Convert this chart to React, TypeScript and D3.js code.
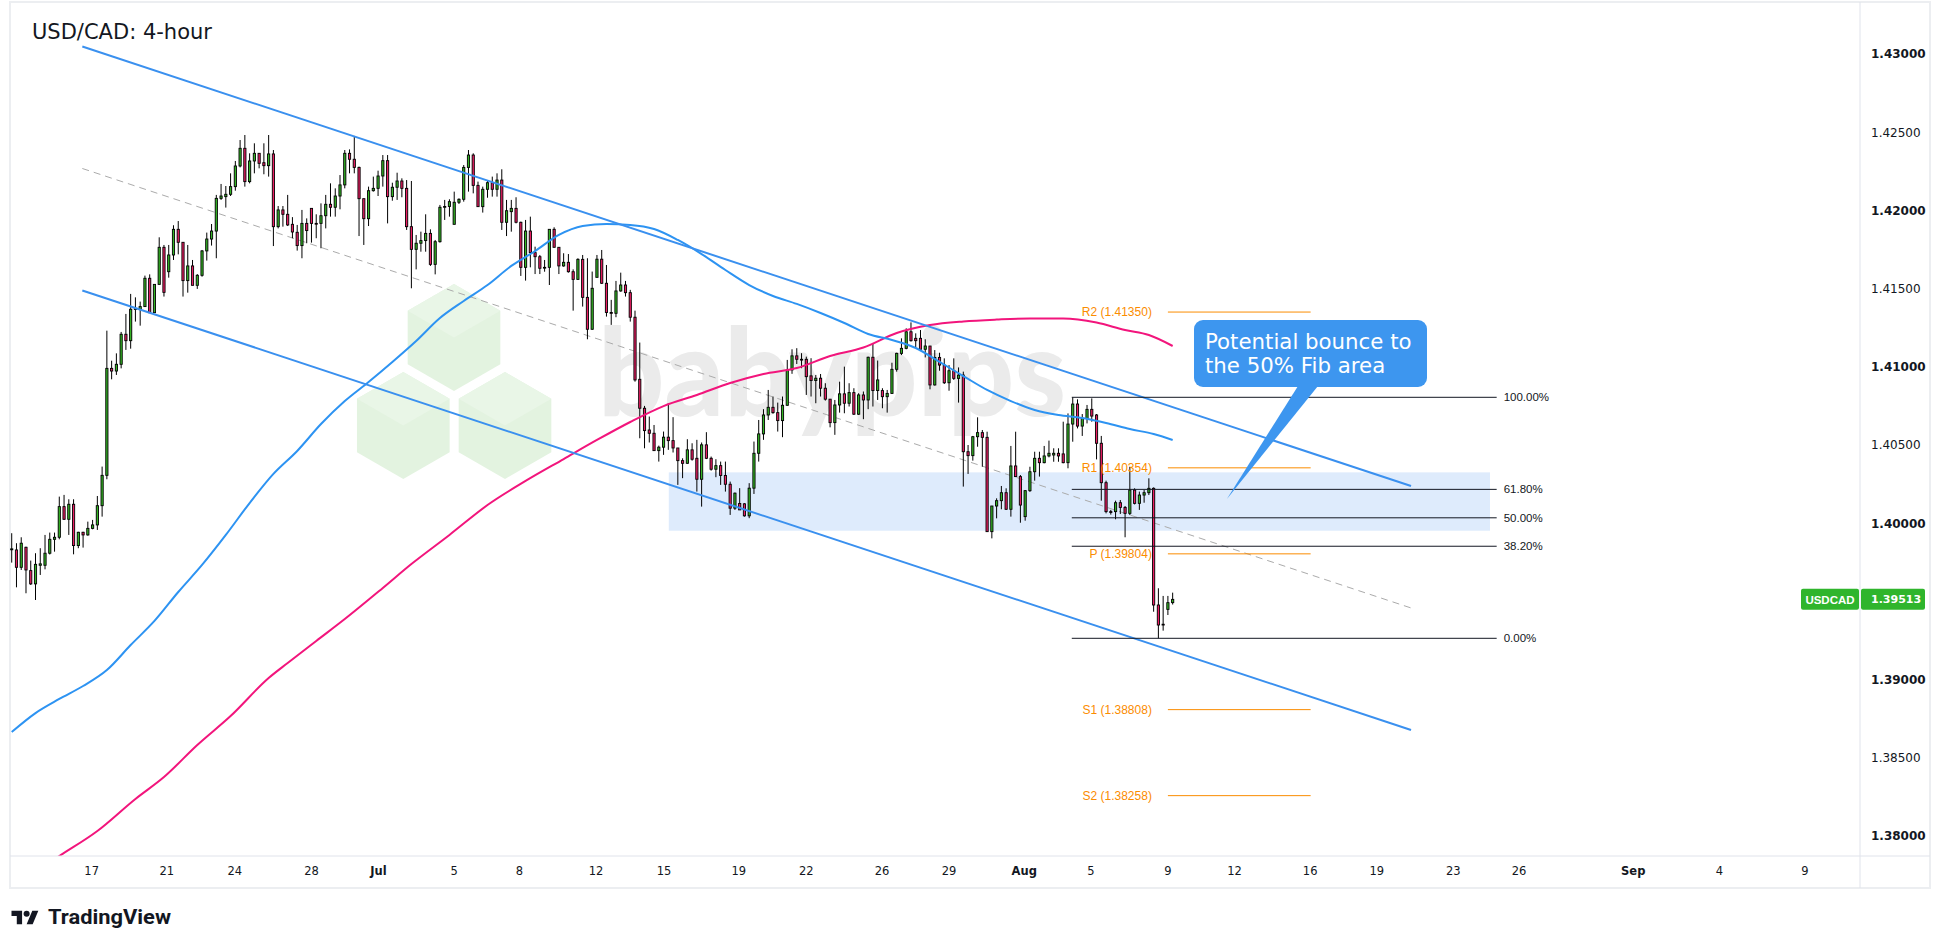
import React from 'react';
import * as d3 from 'd3';

// ---------- DATA ----------
// 4-hour candles [open, high, low, close], bar index = position in the array
const OHLC: [number, number, number, number][] = [
  [1.39830, 1.39936, 1.39748, 1.39836], [1.39829, 1.39872, 1.39590, 1.39718], [1.39718, 1.39910, 1.39701, 1.39872],
  [1.39846, 1.39850, 1.39552, 1.39701], [1.39697, 1.39761, 1.39605, 1.39612], [1.39612, 1.39808, 1.39509, 1.39737],
  [1.39731, 1.39840, 1.39669, 1.39740], [1.39731, 1.39925, 1.39705, 1.39808], [1.39808, 1.39940, 1.39800, 1.39897],
  [1.39897, 1.39940, 1.39818, 1.39910], [1.39910, 1.40170, 1.39897, 1.40106], [1.40106, 1.40181, 1.40021, 1.40025],
  [1.40025, 1.40153, 1.39925, 1.40121], [1.40121, 1.40153, 1.39801, 1.39857], [1.39857, 1.39945, 1.39840, 1.39942],
  [1.39942, 1.39945, 1.39844, 1.39925], [1.39925, 1.40010, 1.39920, 1.39967], [1.39967, 1.40021, 1.39961, 1.39989],
  [1.39989, 1.40174, 1.39957, 1.40112], [1.40112, 1.40362, 1.40042, 1.40306], [1.40306, 1.41231, 1.40281, 1.40990],
  [1.40990, 1.41039, 1.40920, 1.40973], [1.40973, 1.41086, 1.40948, 1.41016], [1.41016, 1.41223, 1.40990, 1.41208],
  [1.41208, 1.41338, 1.41108, 1.41167], [1.41167, 1.41466, 1.41116, 1.41368], [1.41368, 1.41444, 1.41289, 1.41372],
  [1.41368, 1.41417, 1.41263, 1.41385], [1.41385, 1.41583, 1.41385, 1.41566], [1.41566, 1.41591, 1.41346, 1.41346],
  [1.41346, 1.41527, 1.41346, 1.41527], [1.41527, 1.41828, 1.41527, 1.41764], [1.41764, 1.41779, 1.41449, 1.41476],
  [1.41608, 1.41779, 1.41570, 1.41715], [1.41715, 1.41905, 1.41683, 1.41879], [1.41879, 1.41932, 1.41719, 1.41796],
  [1.41796, 1.41796, 1.41449, 1.41551], [1.41551, 1.41779, 1.41474, 1.41645], [1.41645, 1.41683, 1.41521, 1.41521],
  [1.41521, 1.41593, 1.41498, 1.41585], [1.41585, 1.41747, 1.41576, 1.41741], [1.41741, 1.41858, 1.41679, 1.41817],
  [1.41817, 1.41913, 1.41775, 1.41868], [1.41868, 1.42099, 1.41694, 1.42077], [1.42077, 1.42169, 1.42067, 1.42092],
  [1.42088, 1.42156, 1.42018, 1.42103], [1.42103, 1.42237, 1.42092, 1.42152], [1.42152, 1.42316, 1.42126, 1.42284],
  [1.42284, 1.42450, 1.42275, 1.42397], [1.42397, 1.42482, 1.42152, 1.42184], [1.42184, 1.42365, 1.42173, 1.42316],
  [1.42316, 1.42429, 1.42237, 1.42365], [1.42365, 1.42365, 1.42269, 1.42301], [1.42305, 1.42429, 1.42231, 1.42286],
  [1.42286, 1.42482, 1.42216, 1.42361], [1.42361, 1.42386, 1.41772, 1.41896], [1.41896, 1.42028, 1.41885, 1.42003],
  [1.42003, 1.42028, 1.41896, 1.41975], [1.41975, 1.42099, 1.41900, 1.41907], [1.41911, 1.41957, 1.41822, 1.41862],
  [1.41860, 1.41907, 1.41743, 1.41775], [1.41775, 1.42003, 1.41694, 1.41917], [1.41917, 1.41949, 1.41790, 1.41871],
  [1.42013, 1.42013, 1.41794, 1.41917], [1.41917, 1.41975, 1.41822, 1.41915], [1.41917, 1.42045, 1.41758, 1.41966],
  [1.41966, 1.42099, 1.41885, 1.42039], [1.42039, 1.42173, 1.41960, 1.42020], [1.42020, 1.42141, 1.41960, 1.42092],
  [1.42092, 1.42226, 1.42007, 1.42163], [1.42163, 1.42386, 1.42141, 1.42365], [1.42365, 1.42390, 1.42237, 1.42327],
  [1.42327, 1.42476, 1.42237, 1.42275], [1.42275, 1.42280, 1.41836, 1.42075], [1.42075, 1.42075, 1.41779, 1.41947],
  [1.41947, 1.42152, 1.41900, 1.42126], [1.42126, 1.42216, 1.42120, 1.42141], [1.42141, 1.42254, 1.42092, 1.42220],
  [1.42220, 1.42354, 1.42152, 1.42318], [1.42318, 1.42354, 1.41917, 1.42088], [1.42088, 1.42177, 1.42062, 1.42148],
  [1.42148, 1.42241, 1.42067, 1.42188], [1.42188, 1.42205, 1.42084, 1.42141], [1.42141, 1.42194, 1.41875, 1.41896],
  [1.41896, 1.42188, 1.41502, 1.41751], [1.41751, 1.41843, 1.41623, 1.41790], [1.41790, 1.41864, 1.41736, 1.41807],
  [1.41807, 1.41975, 1.41736, 1.41853], [1.41853, 1.41879, 1.41645, 1.41655], [1.41655, 1.41811, 1.41591, 1.41800],
  [1.41800, 1.42035, 1.41794, 1.42020], [1.42020, 1.42067, 1.41939, 1.42025], [1.42025, 1.42071, 1.41960, 1.42056],
  [1.41911, 1.42120, 1.41911, 1.42052], [1.42052, 1.42077, 1.42041, 1.42071], [1.42071, 1.42290, 1.42056, 1.42275],
  [1.42275, 1.42386, 1.42120, 1.42354], [1.42354, 1.42365, 1.42109, 1.42160], [1.42160, 1.42184, 1.42024, 1.42024],
  [1.42024, 1.42152, 1.41986, 1.42135], [1.42135, 1.42188, 1.42081, 1.42177], [1.42177, 1.42216, 1.42088, 1.42135],
  [1.42135, 1.42237, 1.42088, 1.42194], [1.42194, 1.42263, 1.41875, 1.41924], [1.41924, 1.42067, 1.41836, 1.41998],
  [1.41992, 1.42067, 1.41864, 1.42013], [1.42013, 1.42084, 1.41917, 1.41924], [1.41924, 1.41928, 1.41581, 1.41636],
  [1.41636, 1.41939, 1.41551, 1.41868], [1.41868, 1.41960, 1.41636, 1.41730], [1.41730, 1.41768, 1.41593, 1.41704],
  [1.41704, 1.41715, 1.41593, 1.41630], [1.41634, 1.41683, 1.41608, 1.41636], [1.41636, 1.41879, 1.41523, 1.41879],
  [1.41879, 1.41892, 1.41764, 1.41764], [1.41764, 1.41764, 1.41593, 1.41645], [1.41645, 1.41726, 1.41640, 1.41668],
  [1.41668, 1.41721, 1.41602, 1.41608], [1.41608, 1.41623, 1.41359, 1.41559], [1.41559, 1.41694, 1.41555, 1.41687],
  [1.41687, 1.41715, 1.41385, 1.41444], [1.41444, 1.41694, 1.41176, 1.41240], [1.41240, 1.41609, 1.41236, 1.41502],
  [1.41572, 1.41715, 1.41572, 1.41688], [1.41688, 1.41747, 1.41530, 1.41534], [1.41534, 1.41651, 1.41321, 1.41347],
  [1.41347, 1.41428, 1.41268, 1.41345], [1.41342, 1.41549, 1.41317, 1.41485], [1.41485, 1.41602, 1.41480, 1.41523],
  [1.41523, 1.41549, 1.41449, 1.41474], [1.41474, 1.41492, 1.41289, 1.41317], [1.41317, 1.41359, 1.40905, 1.40916],
  [1.40920, 1.41155, 1.40543, 1.40735], [1.40735, 1.40750, 1.40479, 1.40592], [1.40596, 1.40682, 1.40516, 1.40575],
  [1.40575, 1.40628, 1.40464, 1.40464], [1.40464, 1.40496, 1.40394, 1.40486], [1.40486, 1.40586, 1.40437, 1.40550],
  [1.40550, 1.40767, 1.40469, 1.40528], [1.40528, 1.40678, 1.40452, 1.40481], [1.40481, 1.40481, 1.40245, 1.40400],
  [1.40400, 1.40415, 1.40288, 1.40383], [1.40383, 1.40537, 1.40380, 1.40469], [1.40469, 1.40511, 1.40400, 1.40409],
  [1.40415, 1.40533, 1.40202, 1.40281], [1.40281, 1.40516, 1.40106, 1.40501], [1.40501, 1.40582, 1.40410, 1.40415],
  [1.40415, 1.40426, 1.40336, 1.40345], [1.40345, 1.40409, 1.40294, 1.40368], [1.40368, 1.40394, 1.40245, 1.40305],
  [1.40305, 1.40394, 1.40202, 1.40249], [1.40249, 1.40266, 1.40053, 1.40096], [1.40096, 1.40196, 1.40085, 1.40192],
  [1.40126, 1.40224, 1.40085, 1.40085], [1.40124, 1.40128, 1.40042, 1.40047], [1.40047, 1.40256, 1.40032, 1.40224],
  [1.40224, 1.40522, 1.40187, 1.40447], [1.40447, 1.40660, 1.40394, 1.40571], [1.40571, 1.40729, 1.40533, 1.40692],
  [1.40692, 1.40852, 1.40660, 1.40741], [1.40741, 1.40810, 1.40700, 1.40707], [1.40707, 1.40771, 1.40586, 1.40656],
  [1.40656, 1.40810, 1.40550, 1.40754], [1.40754, 1.41044, 1.40750, 1.40980], [1.40980, 1.41112, 1.40955, 1.41070],
  [1.41070, 1.41119, 1.41018, 1.41048], [1.41048, 1.41087, 1.40991, 1.41045], [1.41048, 1.41065, 1.40820, 1.40937],
  [1.40942, 1.41055, 1.40810, 1.40912], [1.40912, 1.40948, 1.40767, 1.40927], [1.40927, 1.40954, 1.40810, 1.40863],
  [1.40863, 1.40895, 1.40784, 1.40793], [1.40793, 1.40793, 1.40613, 1.40643], [1.40643, 1.40788, 1.40565, 1.40756],
  [1.40756, 1.40905, 1.40707, 1.40827], [1.40827, 1.41001, 1.40703, 1.40767], [1.40767, 1.40895, 1.40746, 1.40835],
  [1.40835, 1.40863, 1.40692, 1.40697], [1.40697, 1.40831, 1.40692, 1.40820], [1.40820, 1.40842, 1.40665, 1.40788],
  [1.40788, 1.41065, 1.40729, 1.41061], [1.41061, 1.41151, 1.40746, 1.40848], [1.40848, 1.41040, 1.40788, 1.40916],
  [1.40848, 1.40863, 1.40735, 1.40809], [1.40809, 1.40852, 1.40707, 1.40830], [1.40830, 1.41026, 1.40826, 1.40984],
  [1.40984, 1.41090, 1.40969, 1.41086], [1.41086, 1.41182, 1.41075, 1.41118], [1.41118, 1.41246, 1.41112, 1.41224],
  [1.41224, 1.41284, 1.41161, 1.41167], [1.41182, 1.41214, 1.41124, 1.41167], [1.41182, 1.41235, 1.41103, 1.41112],
  [1.41112, 1.41176, 1.41060, 1.41133], [1.41133, 1.41133, 1.40856, 1.40884], [1.40884, 1.41107, 1.40880, 1.41060],
  [1.41060, 1.41090, 1.40975, 1.41011], [1.41011, 1.41054, 1.40890, 1.40898], [1.40898, 1.41011, 1.40847, 1.40975],
  [1.40975, 1.41054, 1.40916, 1.40926], [1.40926, 1.40996, 1.40771, 1.40947], [1.40947, 1.40969, 1.40234, 1.40457],
  [1.40457, 1.40500, 1.40315, 1.40432], [1.40432, 1.40558, 1.40400, 1.40553], [1.40553, 1.40677, 1.40489, 1.40579],
  [1.40579, 1.40596, 1.40361, 1.40549], [1.40549, 1.40585, 1.39946, 1.39946], [1.39946, 1.40110, 1.39903, 1.40110],
  [1.40110, 1.40159, 1.40031, 1.40144], [1.40144, 1.40238, 1.40089, 1.40195], [1.40195, 1.40223, 1.40085, 1.40089],
  [1.40089, 1.40494, 1.40042, 1.40366], [1.40366, 1.40585, 1.40295, 1.40298], [1.40298, 1.40308, 1.40003, 1.40116],
  [1.40042, 1.40212, 1.40016, 1.40208], [1.40208, 1.40361, 1.40200, 1.40329], [1.40329, 1.40457, 1.40272, 1.40415],
  [1.40415, 1.40457, 1.40298, 1.40387], [1.40387, 1.40494, 1.40383, 1.40430], [1.40430, 1.40528, 1.40421, 1.40447],
  [1.40436, 1.40479, 1.40393, 1.40447], [1.40447, 1.40479, 1.40393, 1.40430], [1.40443, 1.40649, 1.40383, 1.40387],
  [1.40387, 1.40702, 1.40351, 1.40634], [1.40634, 1.40805, 1.40521, 1.40762], [1.40762, 1.40792, 1.40606, 1.40621],
  [1.40621, 1.40698, 1.40558, 1.40670], [1.40670, 1.40756, 1.40638, 1.40728], [1.40728, 1.40798, 1.40649, 1.40685],
  [1.40692, 1.40698, 1.40408, 1.40511], [1.40511, 1.40558, 1.40144, 1.40259], [1.40259, 1.40272, 1.40063, 1.40074],
  [1.40074, 1.40085, 1.40055, 1.40070], [1.40074, 1.40144, 1.40025, 1.40131], [1.40131, 1.40148, 1.40059, 1.40101],
  [1.40101, 1.40110, 1.39910, 1.40063], [1.40063, 1.40361, 1.40052, 1.40212], [1.40212, 1.40223, 1.40120, 1.40127],
  [1.40127, 1.40202, 1.40085, 1.40180], [1.40180, 1.40212, 1.40131, 1.40195], [1.40195, 1.40287, 1.40180, 1.40223],
  [1.40223, 1.40229, 1.39434, 1.39477], [1.39477, 1.39584, 1.39264, 1.39349], [1.39354, 1.39535, 1.39313, 1.39350],
  [1.39449, 1.39535, 1.39413, 1.39492], [1.39492, 1.39556, 1.39480, 1.39513],
];

// Blue moving average, sampled at bar indices
const MA_BLUE_BARS = [0, 5, 10, 15, 20, 25, 30, 35, 40, 45, 50, 55, 60, 65, 70, 75, 80, 85, 90, 95, 100, 105, 110, 115, 120,
  125, 130, 135, 140, 145, 150, 155, 160, 165, 170, 175, 180, 185, 190, 195, 200, 205, 210, 215, 220, 225, 230, 235, 240, 244];
const MA_BLUE = [1.38665, 1.38786, 1.38876, 1.38959, 1.39061, 1.39221, 1.39375, 1.39560, 1.39733, 1.39925, 1.40129, 1.40315,
  1.40462, 1.40634, 1.40781, 1.40903, 1.41031, 1.41165, 1.41312, 1.41421, 1.41523, 1.41645, 1.41740, 1.41843, 1.41900,
  1.41913, 1.41907, 1.41881, 1.41811, 1.41721, 1.41619, 1.41523, 1.41453, 1.41402, 1.41344, 1.41280, 1.41210, 1.41171,
  1.41120, 1.41031, 1.40941, 1.40852, 1.40781, 1.40724, 1.40692, 1.40673, 1.40641, 1.40602, 1.40570, 1.40532];

// Pink moving average, sampled at bar indices
const MA_PINK_BARS = [0, 10, 18, 26, 32, 39, 46, 54, 58, 64, 70, 78, 84, 92, 100, 108, 116, 123, 130, 137, 144, 151, 158,
  165, 172, 179, 186, 193, 200, 207, 214, 221, 228, 234, 239, 244];
const MA_PINK = [1.37668, 1.37872, 1.38032, 1.38237, 1.38377, 1.38582, 1.38767, 1.39010, 1.39106, 1.39247, 1.39387,
  1.39586, 1.39739, 1.39925, 1.40116, 1.40270, 1.40410, 1.40532, 1.40647, 1.40749, 1.40820, 1.40896, 1.40954, 1.40992,
  1.41069, 1.41123, 1.41216, 1.41267, 1.41290, 1.41302, 1.41309, 1.41309, 1.41283, 1.41235, 1.41203, 1.41133];

const PRICE_TICKS = [1.43, 1.425, 1.42, 1.415, 1.41, 1.405, 1.40, 1.395, 1.39, 1.385, 1.38];
const TIME_TICK_LABELS = ['17', '21', '24', '28', 'Jul', '5', '8', '12', '15', '19', '22', '26', '29', 'Aug', '5', '9',
  '12', '16', '19', '23', '26', 'Sep', '4', '9'];
const TIME_TICK_BARS = [16.8, 32.6, 46.9, 63.0, 77.1, 93.0, 106.7, 122.8, 137.1, 152.8, 167.0, 182.9, 197.0, 212.8,
  226.8, 243.0, 257.0, 272.9, 286.9, 303.0, 316.8, 340.8, 358.9, 376.9];
const MONTH_LABELS = ['Jul', 'Aug', 'Sep'];

// Descending channel: [bar, price] endpoints
const CHANNEL_UPPER: [number, number][] = [[14.84, 1.43048], [294.1, 1.40238]];
const CHANNEL_MIDDLE: [number, number][] = [[14.84, 1.42268], [294.1, 1.39458]];
const CHANNEL_LOWER: [number, number][] = [[14.84, 1.41488], [294.1, 1.38678]];

// Fibonacci retracement
const FIB_HIGH = 1.40805;
const FIB_LOW = 1.39264;
const FIB_RATIOS = [1, 0.618, 0.5, 0.382, 0];
const FIB_LABELS = ['100.00%', '61.80%', '50.00%', '38.20%', '0.00%'];
const FIB_BARS = [222.8, 312.1];

// Pivot points
const PIVOT_NAMES = ['R2', 'R1', 'P', 'S1', 'S2'];
const PIVOT_VALUES = [1.41350, 1.40354, 1.39804, 1.38808, 1.38258];
const PIVOT_BARS = [243.0, 273.0];

// Support zone
const ZONE_BARS = [138.1, 310.7];
const ZONE_PRICES = [1.40325, 1.39952];

const LAST_PRICE = 1.39513;
const SYMBOL = 'USDCAD';
const TITLE = 'USD/CAD: 4-hour';
const CALLOUT_LINES = ['Potential bounce to', 'the 50% Fib area'];
const CALLOUT_TIP: [number, number] = [255.4, 1.40155];

// ---------- STYLE ----------
const UP = '#34b425';
const DOWN = '#ea1e63';
const FONT = '"DejaVu Sans", Verdana, sans-serif';
const FONT2 = '"Liberation Sans", Arial, sans-serif';

export default function App() {
  const left = 10, right = 1860, top = 3, bottom = 856;
  const x = d3.scaleLinear().domain([-0.36, 388.46]).range([left, right]);
  const y = d3.scaleLinear().domain([1.43, 1.38]).range([54, 836]);

  const line = d3.line<[number, number]>().x(d => x(d[0])).y(d => y(d[1]));
  const smooth = d3.line<[number, number]>().x(d => x(d[0])).y(d => y(d[1])).curve(d3.curveMonotoneX);

  const bluePts: [number, number][] = MA_BLUE_BARS.map((b, i) => [b, MA_BLUE[i]]);
  const pinkPts: [number, number][] = MA_PINK_BARS.map((b, i) => [b, MA_PINK[i]]);

  const bw = 2.2;

  // watermark hexagons
  const hexR = 53.5;
  const hexCenters: [number, number][] = [[454, 337.5], [403.3, 425.5], [505, 425.5]];
  const hexPath = (cx: number, cy: number) => {
    const pts = d3.range(6).map(k => {
      const a = (Math.PI / 3) * k - Math.PI / 2;
      return [cx + hexR * Math.cos(a), cy + hexR * Math.sin(a)];
    });
    return 'M' + pts.map(p => p.join(',')).join('L') + 'Z';
  };
  const hexTop = (cx: number, cy: number) => {
    const a = (k: number) => (Math.PI / 3) * k - Math.PI / 2;
    const p = (k: number) => [cx + hexR * Math.cos(a(k)), cy + hexR * Math.sin(a(k))];
    const t = p(0), r = p(1), l = p(5);
    return `M${t[0]},${t[1]}L${r[0]},${r[1]}L${cx},${cy}L${l[0]},${l[1]}Z`;
  };

  const fibY = FIB_RATIOS.map(r => y(FIB_LOW + r * (FIB_HIGH - FIB_LOW)));

  // callout geometry
  const cbX = 1194, cbY = 320, cbW = 233, cbH = 67;
  const tipX = x(CALLOUT_TIP[0]), tipY = y(CALLOUT_TIP[1]);

  const lastY = y(LAST_PRICE);

  return (
    <svg width={1940} height={948} style={{ position: 'absolute', left: 0, top: 0, display: 'block' }}>
      <defs>
        <clipPath id="plotClip">
          <rect x={left} y={top} width={right - left} height={bottom - top} />
        </clipPath>
      </defs>
      <rect x={0} y={0} width={1940} height={948} fill="#ffffff" />
      <rect x={10} y={2} width={1920} height={886} fill="#ffffff" stroke="#eceef1" strokeWidth={2} />

      <g clipPath="url(#plotClip)">
        {/* watermark */}
        <g>
          {hexCenters.map(([cx, cy], i) => (
            <g key={'hex' + i}>
              <path d={hexPath(cx, cy)} fill="#e3f3e0" />
              <path d={hexTop(cx, cy)} fill="#e9f6e7" />
            </g>
          ))}
          <text x={598} y={416} fontFamily='Lato, "DejaVu Sans", sans-serif' fontWeight={900} fontSize={122}
            fill="#ebebeb" textLength={468} lengthAdjust="spacingAndGlyphs">babypips</text>
        </g>

        {/* support zone */}
        <rect x={x(ZONE_BARS[0])} y={y(ZONE_PRICES[0])} width={x(ZONE_BARS[1]) - x(ZONE_BARS[0])}
          height={y(ZONE_PRICES[1]) - y(ZONE_PRICES[0])} fill="#deebfc" />

        {/* channel middle dashed */}
        <path d={line(CHANNEL_MIDDLE) || ''} stroke="#ababab" strokeWidth={1} strokeDasharray="7 5" fill="none" />

        {/* candles */}
        <g>
          {OHLC.map(([o, h, l, c], i) => {
            const cx = x(i);
            const up = c >= o;
            const yT = y(Math.max(o, c));
            const yB = y(Math.min(o, c));
            return (
              <g key={'c' + i}>
                <line x1={cx} x2={cx} y1={y(h)} y2={y(l)} stroke="#000" strokeWidth={1} />
                <rect x={cx - bw / 2} y={yT} width={bw} height={Math.max(0.8, yB - yT)}
                  fill={up ? UP : DOWN} stroke="#000" strokeWidth={0.9} />
              </g>
            );
          })}
        </g>

        {/* moving averages */}
        <path d={smooth(pinkPts) || ''} stroke="#f2157c" strokeWidth={2} fill="none" />
        <path d={smooth(bluePts) || ''} stroke="#2d93f2" strokeWidth={2} fill="none" />

        {/* channel */}
        <path d={line(CHANNEL_UPPER) || ''} stroke="#3a90ef" strokeWidth={2} fill="none" />
        <path d={line(CHANNEL_LOWER) || ''} stroke="#3a90ef" strokeWidth={2} fill="none" />

        {/* fibonacci */}
        {FIB_RATIOS.map((r, i) => (
          <g key={'fib' + i}>
            <line x1={x(FIB_BARS[0])} x2={x(FIB_BARS[1])} y1={fibY[i]} y2={fibY[i]} stroke="#131722" strokeWidth={1} />
            <text x={x(FIB_BARS[1]) + 7} y={fibY[i]} dy="0.35em" fontFamily={FONT2} fontSize={11.5} fill="#131722">
              {FIB_LABELS[i]}
            </text>
          </g>
        ))}

        {/* pivots */}
        {PIVOT_VALUES.map((v, i) => (
          <g key={'pv' + i}>
            <line x1={x(PIVOT_BARS[0])} x2={x(PIVOT_BARS[1])} y1={y(v)} y2={y(v)} stroke="#fb8c00" strokeWidth={1} />
            <text x={x(PIVOT_BARS[0]) - 16} y={y(v)} dy="0.36em" textAnchor="end" fontFamily={FONT2} fontSize={12}
              fill="#fb8c00">{`${PIVOT_NAMES[i]} (${v.toFixed(5)})`}</text>
          </g>
        ))}

        {/* callout */}
        <path d={`M${cbX + 104},${cbY + cbH - 1}L${cbX + 124},${cbY + cbH - 1}L${tipX},${tipY}Z`} fill="#3d96ef" />
        <rect x={cbX} y={cbY} width={cbW} height={cbH} rx={9} fill="#3d96ef" />
        {CALLOUT_LINES.map((t, i) => (
          <text key={'cl' + i} x={cbX + 11} y={cbY + 29 + i * 24} fontFamily={FONT} fontSize={21.3} fill="#ffffff">{t}</text>
        ))}
      </g>

      {/* title */}
      <text x={32} y={39} fontFamily={FONT} fontSize={21} fill="#131722">{TITLE}</text>

      {/* axes borders */}
      <line x1={right} x2={right} y1={2} y2={888} stroke="#e0e3eb" strokeWidth={1} />
      <line x1={10} x2={1930} y1={bottom} y2={bottom} stroke="#e0e3eb" strokeWidth={1} />

      {/* price axis */}
      {PRICE_TICKS.map((p, i) => {
        const round = Math.abs(Math.round(p * 100) - p * 100) < 1e-6;
        return (
          <text key={'pt' + i} x={1871} y={y(p)} dy="0.36em" fontFamily={FONT} fontSize={12}
            fontWeight={round ? 'bold' : 'normal'} fill="#131722">{p.toFixed(5)}</text>
        );
      })}

      {/* last price tags */}
      <rect x={1801} y={lastY - 10.5} width={58} height={21} rx={2} fill="#2fb52c" />
      <text x={1830} y={lastY} dy="0.36em" textAnchor="middle" fontFamily={FONT2} fontWeight="bold" fontSize={11.5}
        fill="#ffffff">{SYMBOL}</text>
      <rect x={1861} y={lastY - 10.5} width={64} height={21} rx={2} fill="#2fb52c" />
      <text x={1871} y={lastY} dy="0.36em" fontFamily={FONT} fontWeight="bold" fontSize={11} fill="#ffffff">
        {LAST_PRICE.toFixed(5)}
      </text>

      {/* time axis */}
      {TIME_TICK_LABELS.map((t, i) => (
        <text key={'tt' + i} x={x(TIME_TICK_BARS[i])} y={871} dy="0.36em" textAnchor="middle" fontFamily={FONT}
          fontSize={11.5} fontWeight={MONTH_LABELS.includes(t) ? 'bold' : 'normal'} fill="#131722">{t}</text>
      ))}

      {/* TradingView logo */}
      <g transform="translate(11.5,907.7) scale(0.756)" fill="#131722">
        <path d="M14 22H7V11H0V4h14v18zM28 22h-8l7.5-18h8L28 22z" />
        <circle cx={20} cy={8} r={4} />
      </g>
      <text x={48} y={924} fontFamily='Roboto, "Liberation Sans", sans-serif' fontWeight="bold" fontSize={19.5}
        fill="#131722" textLength={123} lengthAdjust="spacingAndGlyphs">TradingView</text>
    </svg>
  );
}
